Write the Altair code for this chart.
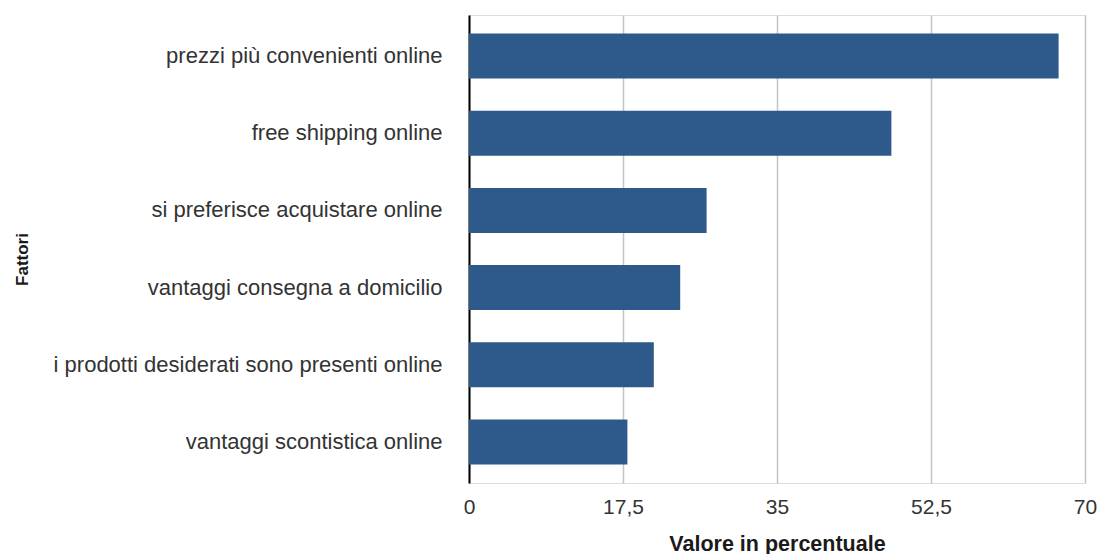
import altair as alt
import pandas as pd

fattori = [
    "prezzi più convenienti online",
    "free shipping online",
    "si preferisce acquistare online",
    "vantaggi consegna a  domicilio",
    "i prodotti desiderati  sono presenti  online",
    "vantaggi scontistica  online",
]
valori = [67, 48, 27, 24, 21, 18]
tick_values = [0, 17.5, 35, 52.5, 70]

df = pd.DataFrame({"Fattori": fattori, "Valore": valori})

chart = (
    alt.Chart(df)
    .mark_bar(color="#2e5a8b")
    .encode(
        x=alt.X(
            "Valore:Q",
            scale=alt.Scale(domain=[0, 70], nice=False),
            axis=alt.Axis(
                title="Valore in percentuale",
                values=tick_values,
                labelExpr="replace(toString(datum.value), '.', ',')",
                labelFlush=False,
                grid=True,
                gridColor="#c4c4c4",
                gridWidth=1.5,
                domain=False,
                ticks=False,
                labelFont="Liberation Sans",
                labelFontSize=21,
                labelColor="#333333",
                labelPadding=13,
                titleFont="Liberation Sans",
                titleFontSize=21.5,
                titleFontWeight="bold",
                titleColor="#1a1a1a",
                titleBaseline="alphabetic",
                titleY=67,
            ),
        ),
        y=alt.Y(
            "Fattori:N",
            sort=fattori,
            scale=alt.Scale(paddingInner=0.416, paddingOuter=0.24),
            axis=alt.Axis(
                title="Fattori",
                domain=True,
                domainColor="#000000",
                domainWidth=2,
                ticks=False,
                grid=False,
                labelFont="Liberation Sans",
                labelFontSize=22,
                labelColor="#333333",
                labelPadding=27,
                labelLimit=460,
                titleFont="Liberation Sans",
                titleFontSize=17,
                titleFontWeight="bold",
                titleColor="#1a1a1a",
                titleAngle=270,
                titleBaseline="alphabetic",
                titleX=-442,
                titleY=244,
            ),
        ),
    )
    .properties(
        width=616,
        height=468,
        autosize=alt.AutoSizeParams(type="none"),
        padding={"left": 469, "top": 15, "right": 16, "bottom": 71},
    )
    .configure_view(stroke=None)
    .configure(background="white")
)

chart.save("out.html", embed_options={"renderer": "svg", "actions": False})
